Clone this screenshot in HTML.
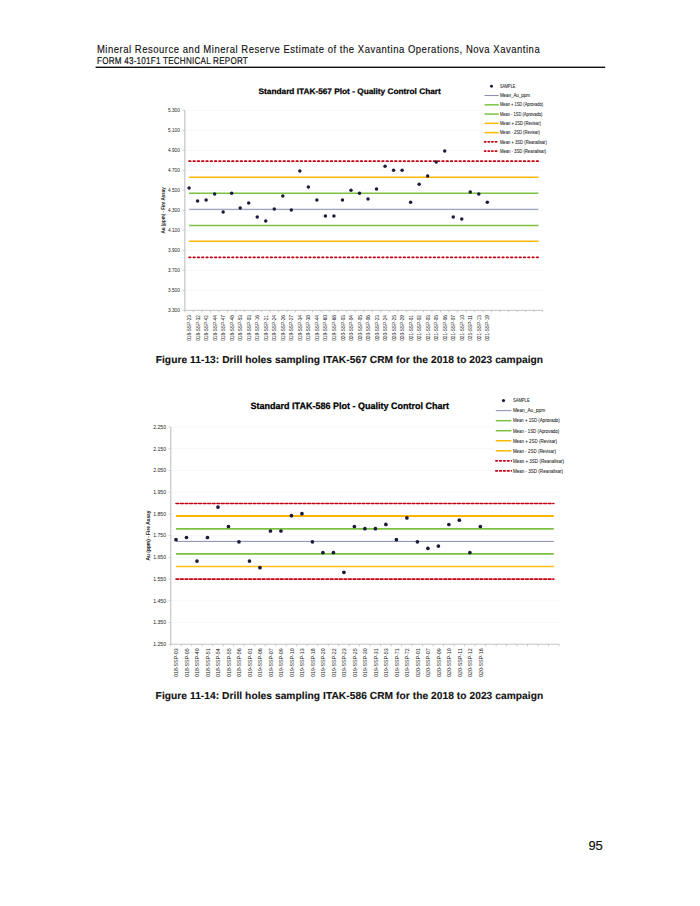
<!DOCTYPE html>
<html><head><meta charset="utf-8"><title>Page 95</title>
<style>
html,body{margin:0;padding:0;background:#fff;}
body{width:700px;height:906px;overflow:hidden;position:relative;}
svg{position:absolute;left:0;top:0;display:block;font-family:'Liberation Sans', sans-serif;}
.gp{text-rendering:geometricPrecision;}
</style></head><body>
<svg width="700" height="906" viewBox="0 0 700 906">
<rect width="700" height="906" fill="#fff"/>
<text transform="translate(96.9,52.7) scale(0.9,1)" font-size="10.55" fill="#111" stroke="#111" stroke-width="0.14" textLength="492.00" lengthAdjust="spacing">Mineral Resource and Mineral Reserve Estimate of the Xavantina Operations, Nova Xavantina</text>
<text class="gp" transform="translate(97.0,63.7) scale(0.82,1)" font-size="9.9" font-weight="400" fill="#111" stroke="#111" stroke-width="0.2" textLength="183.90" lengthAdjust="spacing">FORM 43-101F1 TECHNICAL REPORT</text>
<rect x="95.6" y="66.6" width="509.6" height="1.4" fill="#111"/>
<rect x="184.8" y="109.9" width="357.9" height="0.8" fill="#f7f7f7"/>
<rect x="182.8" y="109.9" width="2" height="0.8" fill="#bdbdbd"/>
<text x="179.8" y="111.99" font-size="4.7" text-anchor="end" fill="#222">5.300</text>
<rect x="184.8" y="129.9" width="357.9" height="0.8" fill="#f7f7f7"/>
<rect x="182.8" y="129.9" width="2" height="0.8" fill="#bdbdbd"/>
<text x="179.8" y="131.99" font-size="4.7" text-anchor="end" fill="#222">5.100</text>
<rect x="184.8" y="149.9" width="357.9" height="0.8" fill="#f7f7f7"/>
<rect x="182.8" y="149.9" width="2" height="0.8" fill="#bdbdbd"/>
<text x="179.8" y="151.99" font-size="4.7" text-anchor="end" fill="#222">4.900</text>
<rect x="184.8" y="169.9" width="357.9" height="0.8" fill="#f7f7f7"/>
<rect x="182.8" y="169.9" width="2" height="0.8" fill="#bdbdbd"/>
<text x="179.8" y="171.99" font-size="4.7" text-anchor="end" fill="#222">4.700</text>
<rect x="184.8" y="189.9" width="357.9" height="0.8" fill="#f7f7f7"/>
<rect x="182.8" y="189.9" width="2" height="0.8" fill="#bdbdbd"/>
<text x="179.8" y="191.99" font-size="4.7" text-anchor="end" fill="#222">4.500</text>
<rect x="184.8" y="209.9" width="357.9" height="0.8" fill="#f7f7f7"/>
<rect x="182.8" y="209.9" width="2" height="0.8" fill="#bdbdbd"/>
<text x="179.8" y="211.99" font-size="4.7" text-anchor="end" fill="#222">4.300</text>
<rect x="184.8" y="229.9" width="357.9" height="0.8" fill="#f7f7f7"/>
<rect x="182.8" y="229.9" width="2" height="0.8" fill="#bdbdbd"/>
<text x="179.8" y="231.99" font-size="4.7" text-anchor="end" fill="#222">4.100</text>
<rect x="184.8" y="249.9" width="357.9" height="0.8" fill="#f7f7f7"/>
<rect x="182.8" y="249.9" width="2" height="0.8" fill="#bdbdbd"/>
<text x="179.8" y="251.99" font-size="4.7" text-anchor="end" fill="#222">3.900</text>
<rect x="184.8" y="269.9" width="357.9" height="0.8" fill="#f7f7f7"/>
<rect x="182.8" y="269.9" width="2" height="0.8" fill="#bdbdbd"/>
<text x="179.8" y="271.99" font-size="4.7" text-anchor="end" fill="#222">3.700</text>
<rect x="184.8" y="289.9" width="357.9" height="0.8" fill="#f7f7f7"/>
<rect x="182.8" y="289.9" width="2" height="0.8" fill="#bdbdbd"/>
<text x="179.8" y="291.99" font-size="4.7" text-anchor="end" fill="#222">3.500</text>
<rect x="182.8" y="309.9" width="2" height="0.8" fill="#bdbdbd"/>
<text x="179.8" y="311.99" font-size="4.7" text-anchor="end" fill="#222">3.300</text>
<rect x="184.15" y="110.3" width="1.3" height="200" fill="#cacaca"/>
<rect x="184.8" y="309.8" width="357.9" height="1" fill="#c4c4c4"/>
<rect x="184.4" y="310.3" width="0.8" height="2" fill="#bdbdbd"/>
<rect x="192.92" y="310.3" width="0.8" height="2" fill="#bdbdbd"/>
<rect x="201.44" y="310.3" width="0.8" height="2" fill="#bdbdbd"/>
<rect x="209.96" y="310.3" width="0.8" height="2" fill="#bdbdbd"/>
<rect x="218.49" y="310.3" width="0.8" height="2" fill="#bdbdbd"/>
<rect x="227.01" y="310.3" width="0.8" height="2" fill="#bdbdbd"/>
<rect x="235.53" y="310.3" width="0.8" height="2" fill="#bdbdbd"/>
<rect x="244.05" y="310.3" width="0.8" height="2" fill="#bdbdbd"/>
<rect x="252.57" y="310.3" width="0.8" height="2" fill="#bdbdbd"/>
<rect x="261.09" y="310.3" width="0.8" height="2" fill="#bdbdbd"/>
<rect x="269.61" y="310.3" width="0.8" height="2" fill="#bdbdbd"/>
<rect x="278.14" y="310.3" width="0.8" height="2" fill="#bdbdbd"/>
<rect x="286.66" y="310.3" width="0.8" height="2" fill="#bdbdbd"/>
<rect x="295.18" y="310.3" width="0.8" height="2" fill="#bdbdbd"/>
<rect x="303.7" y="310.3" width="0.8" height="2" fill="#bdbdbd"/>
<rect x="312.22" y="310.3" width="0.8" height="2" fill="#bdbdbd"/>
<rect x="320.74" y="310.3" width="0.8" height="2" fill="#bdbdbd"/>
<rect x="329.26" y="310.3" width="0.8" height="2" fill="#bdbdbd"/>
<rect x="337.79" y="310.3" width="0.8" height="2" fill="#bdbdbd"/>
<rect x="346.31" y="310.3" width="0.8" height="2" fill="#bdbdbd"/>
<rect x="354.83" y="310.3" width="0.8" height="2" fill="#bdbdbd"/>
<rect x="363.35" y="310.3" width="0.8" height="2" fill="#bdbdbd"/>
<rect x="371.87" y="310.3" width="0.8" height="2" fill="#bdbdbd"/>
<rect x="380.39" y="310.3" width="0.8" height="2" fill="#bdbdbd"/>
<rect x="388.91" y="310.3" width="0.8" height="2" fill="#bdbdbd"/>
<rect x="397.44" y="310.3" width="0.8" height="2" fill="#bdbdbd"/>
<rect x="405.96" y="310.3" width="0.8" height="2" fill="#bdbdbd"/>
<rect x="414.48" y="310.3" width="0.8" height="2" fill="#bdbdbd"/>
<rect x="423" y="310.3" width="0.8" height="2" fill="#bdbdbd"/>
<rect x="431.52" y="310.3" width="0.8" height="2" fill="#bdbdbd"/>
<rect x="440.04" y="310.3" width="0.8" height="2" fill="#bdbdbd"/>
<rect x="448.56" y="310.3" width="0.8" height="2" fill="#bdbdbd"/>
<rect x="457.09" y="310.3" width="0.8" height="2" fill="#bdbdbd"/>
<rect x="465.61" y="310.3" width="0.8" height="2" fill="#bdbdbd"/>
<rect x="474.13" y="310.3" width="0.8" height="2" fill="#bdbdbd"/>
<rect x="482.65" y="310.3" width="0.8" height="2" fill="#bdbdbd"/>
<rect x="491.17" y="310.3" width="0.8" height="2" fill="#bdbdbd"/>
<rect x="499.69" y="310.3" width="0.8" height="2" fill="#bdbdbd"/>
<rect x="508.21" y="310.3" width="0.8" height="2" fill="#bdbdbd"/>
<rect x="516.74" y="310.3" width="0.8" height="2" fill="#bdbdbd"/>
<rect x="525.26" y="310.3" width="0.8" height="2" fill="#bdbdbd"/>
<rect x="533.78" y="310.3" width="0.8" height="2" fill="#bdbdbd"/>
<rect x="542.3" y="310.3" width="0.8" height="2" fill="#bdbdbd"/>
<line x1="189.06" y1="161.2" x2="538.44" y2="161.2" stroke="#c40012" stroke-width="1.7" stroke-dasharray="1.6 2.69" stroke-linecap="round"/>
<line x1="189.06" y1="257.3" x2="538.44" y2="257.3" stroke="#c40012" stroke-width="1.7" stroke-dasharray="1.6 2.69" stroke-linecap="round"/>
<line x1="189.06" y1="177.2" x2="538.44" y2="177.2" stroke="#ffb800" stroke-width="1.5"/>
<line x1="189.06" y1="241.3" x2="538.44" y2="241.3" stroke="#ffb800" stroke-width="1.5"/>
<line x1="189.06" y1="193.2" x2="538.44" y2="193.2" stroke="#7cc242" stroke-width="1.5"/>
<line x1="189.06" y1="225.4" x2="538.44" y2="225.4" stroke="#7cc242" stroke-width="1.5"/>
<line x1="189.06" y1="209.3" x2="538.44" y2="209.3" stroke="#7880aa" stroke-width="0.9"/>
<circle cx="189.06" cy="187.9" r="1.75" fill="#1b1b3c"/>
<circle cx="197.58" cy="201.1" r="1.75" fill="#1b1b3c"/>
<circle cx="206.1" cy="200.1" r="1.75" fill="#1b1b3c"/>
<circle cx="214.63" cy="194.1" r="1.75" fill="#1b1b3c"/>
<circle cx="223.15" cy="212.1" r="1.75" fill="#1b1b3c"/>
<circle cx="231.67" cy="193.2" r="1.75" fill="#1b1b3c"/>
<circle cx="240.19" cy="208.1" r="1.75" fill="#1b1b3c"/>
<circle cx="248.71" cy="203.1" r="1.75" fill="#1b1b3c"/>
<circle cx="257.23" cy="217" r="1.75" fill="#1b1b3c"/>
<circle cx="265.75" cy="221.1" r="1.75" fill="#1b1b3c"/>
<circle cx="274.28" cy="209.1" r="1.75" fill="#1b1b3c"/>
<circle cx="282.8" cy="196.1" r="1.75" fill="#1b1b3c"/>
<circle cx="291.32" cy="210" r="1.75" fill="#1b1b3c"/>
<circle cx="299.84" cy="171.1" r="1.75" fill="#1b1b3c"/>
<circle cx="308.36" cy="187.1" r="1.75" fill="#1b1b3c"/>
<circle cx="316.88" cy="200.1" r="1.75" fill="#1b1b3c"/>
<circle cx="325.4" cy="216.1" r="1.75" fill="#1b1b3c"/>
<circle cx="333.93" cy="216.1" r="1.75" fill="#1b1b3c"/>
<circle cx="342.45" cy="200.1" r="1.75" fill="#1b1b3c"/>
<circle cx="350.97" cy="190.2" r="1.75" fill="#1b1b3c"/>
<circle cx="359.49" cy="193.3" r="1.75" fill="#1b1b3c"/>
<circle cx="368.01" cy="199.1" r="1.75" fill="#1b1b3c"/>
<circle cx="376.53" cy="189.1" r="1.75" fill="#1b1b3c"/>
<circle cx="385.05" cy="166.2" r="1.75" fill="#1b1b3c"/>
<circle cx="393.58" cy="170.3" r="1.75" fill="#1b1b3c"/>
<circle cx="402.1" cy="170.3" r="1.75" fill="#1b1b3c"/>
<circle cx="410.62" cy="202.2" r="1.75" fill="#1b1b3c"/>
<circle cx="419.14" cy="184.2" r="1.75" fill="#1b1b3c"/>
<circle cx="427.66" cy="176.1" r="1.75" fill="#1b1b3c"/>
<circle cx="436.18" cy="162.1" r="1.75" fill="#1b1b3c"/>
<circle cx="444.7" cy="151.1" r="1.75" fill="#1b1b3c"/>
<circle cx="453.23" cy="217.1" r="1.75" fill="#1b1b3c"/>
<circle cx="461.75" cy="219.1" r="1.75" fill="#1b1b3c"/>
<circle cx="470.27" cy="192.1" r="1.75" fill="#1b1b3c"/>
<circle cx="478.79" cy="194.1" r="1.75" fill="#1b1b3c"/>
<circle cx="487.31" cy="202.2" r="1.75" fill="#1b1b3c"/>
<text transform="translate(191.11,315) rotate(-90)" font-size="5.4" text-anchor="end" fill="#222" stroke="#222" stroke-width="0" textLength="25.8" lengthAdjust="spacingAndGlyphs">018-SSP-23</text>
<text transform="translate(199.63,315) rotate(-90)" font-size="5.4" text-anchor="end" fill="#222" stroke="#222" stroke-width="0" textLength="25.8" lengthAdjust="spacingAndGlyphs">018-SSP-32</text>
<text transform="translate(208.16,315) rotate(-90)" font-size="5.4" text-anchor="end" fill="#222" stroke="#222" stroke-width="0" textLength="25.8" lengthAdjust="spacingAndGlyphs">018-SSP-42</text>
<text transform="translate(216.68,315) rotate(-90)" font-size="5.4" text-anchor="end" fill="#222" stroke="#222" stroke-width="0" textLength="25.8" lengthAdjust="spacingAndGlyphs">018-SSP-44</text>
<text transform="translate(225.2,315) rotate(-90)" font-size="5.4" text-anchor="end" fill="#222" stroke="#222" stroke-width="0" textLength="25.8" lengthAdjust="spacingAndGlyphs">018-SSP-47</text>
<text transform="translate(233.72,315) rotate(-90)" font-size="5.4" text-anchor="end" fill="#222" stroke="#222" stroke-width="0" textLength="25.8" lengthAdjust="spacingAndGlyphs">018-SSP-48</text>
<text transform="translate(242.24,315) rotate(-90)" font-size="5.4" text-anchor="end" fill="#222" stroke="#222" stroke-width="0" textLength="25.8" lengthAdjust="spacingAndGlyphs">018-SSP-53</text>
<text transform="translate(250.76,315) rotate(-90)" font-size="5.4" text-anchor="end" fill="#222" stroke="#222" stroke-width="0" textLength="25.8" lengthAdjust="spacingAndGlyphs">019-SSP-03</text>
<text transform="translate(259.28,315) rotate(-90)" font-size="5.4" text-anchor="end" fill="#222" stroke="#222" stroke-width="0" textLength="25.8" lengthAdjust="spacingAndGlyphs">019-SSP-16</text>
<text transform="translate(267.81,315) rotate(-90)" font-size="5.4" text-anchor="end" fill="#222" stroke="#222" stroke-width="0" textLength="25.8" lengthAdjust="spacingAndGlyphs">019-SSP-21</text>
<text transform="translate(276.33,315) rotate(-90)" font-size="5.4" text-anchor="end" fill="#222" stroke="#222" stroke-width="0" textLength="25.8" lengthAdjust="spacingAndGlyphs">019-SSP-24</text>
<text transform="translate(284.85,315) rotate(-90)" font-size="5.4" text-anchor="end" fill="#222" stroke="#222" stroke-width="0" textLength="25.8" lengthAdjust="spacingAndGlyphs">019-SSP-26</text>
<text transform="translate(293.37,315) rotate(-90)" font-size="5.4" text-anchor="end" fill="#222" stroke="#222" stroke-width="0" textLength="25.8" lengthAdjust="spacingAndGlyphs">019-SSP-27</text>
<text transform="translate(301.89,315) rotate(-90)" font-size="5.4" text-anchor="end" fill="#222" stroke="#222" stroke-width="0" textLength="25.8" lengthAdjust="spacingAndGlyphs">019-SSP-34</text>
<text transform="translate(310.41,315) rotate(-90)" font-size="5.4" text-anchor="end" fill="#222" stroke="#222" stroke-width="0" textLength="25.8" lengthAdjust="spacingAndGlyphs">019-SSP-38</text>
<text transform="translate(318.93,315) rotate(-90)" font-size="5.4" text-anchor="end" fill="#222" stroke="#222" stroke-width="0" textLength="25.8" lengthAdjust="spacingAndGlyphs">019-SSP-44</text>
<text transform="translate(327.46,315) rotate(-90)" font-size="5.4" text-anchor="end" fill="#222" stroke="#222" stroke-width="0" textLength="25.8" lengthAdjust="spacingAndGlyphs">019-SSP-60</text>
<text transform="translate(335.98,315) rotate(-90)" font-size="5.4" text-anchor="end" fill="#222" stroke="#222" stroke-width="0" textLength="25.8" lengthAdjust="spacingAndGlyphs">019-SSP-68</text>
<text transform="translate(344.5,315) rotate(-90)" font-size="5.4" text-anchor="end" fill="#222" stroke="#222" stroke-width="0" textLength="25.8" lengthAdjust="spacingAndGlyphs">020-SSP-03</text>
<text transform="translate(353.02,315) rotate(-90)" font-size="5.4" text-anchor="end" fill="#222" stroke="#222" stroke-width="0" textLength="25.8" lengthAdjust="spacingAndGlyphs">020-SSP-04</text>
<text transform="translate(361.54,315) rotate(-90)" font-size="5.4" text-anchor="end" fill="#222" stroke="#222" stroke-width="0" textLength="25.8" lengthAdjust="spacingAndGlyphs">020-SSP-05</text>
<text transform="translate(370.06,315) rotate(-90)" font-size="5.4" text-anchor="end" fill="#222" stroke="#222" stroke-width="0" textLength="25.8" lengthAdjust="spacingAndGlyphs">020-SSP-06</text>
<text transform="translate(378.58,315) rotate(-90)" font-size="5.4" text-anchor="end" fill="#222" stroke="#222" stroke-width="0" textLength="25.8" lengthAdjust="spacingAndGlyphs">020-SSP-23</text>
<text transform="translate(387.11,315) rotate(-90)" font-size="5.4" text-anchor="end" fill="#222" stroke="#222" stroke-width="0" textLength="25.8" lengthAdjust="spacingAndGlyphs">020-SSP-24</text>
<text transform="translate(395.63,315) rotate(-90)" font-size="5.4" text-anchor="end" fill="#222" stroke="#222" stroke-width="0" textLength="25.8" lengthAdjust="spacingAndGlyphs">020-SSP-25</text>
<text transform="translate(404.15,315) rotate(-90)" font-size="5.4" text-anchor="end" fill="#222" stroke="#222" stroke-width="0" textLength="25.8" lengthAdjust="spacingAndGlyphs">020-SSP-29</text>
<text transform="translate(412.67,315) rotate(-90)" font-size="5.4" text-anchor="end" fill="#222" stroke="#222" stroke-width="0" textLength="25.8" lengthAdjust="spacingAndGlyphs">021-SSP-01</text>
<text transform="translate(421.19,315) rotate(-90)" font-size="5.4" text-anchor="end" fill="#222" stroke="#222" stroke-width="0" textLength="25.8" lengthAdjust="spacingAndGlyphs">021-SSP-02</text>
<text transform="translate(429.71,315) rotate(-90)" font-size="5.4" text-anchor="end" fill="#222" stroke="#222" stroke-width="0" textLength="25.8" lengthAdjust="spacingAndGlyphs">021-SSP-03</text>
<text transform="translate(438.23,315) rotate(-90)" font-size="5.4" text-anchor="end" fill="#222" stroke="#222" stroke-width="0" textLength="25.8" lengthAdjust="spacingAndGlyphs">021-SSP-05</text>
<text transform="translate(446.76,315) rotate(-90)" font-size="5.4" text-anchor="end" fill="#222" stroke="#222" stroke-width="0" textLength="25.8" lengthAdjust="spacingAndGlyphs">021-SSP-06</text>
<text transform="translate(455.28,315) rotate(-90)" font-size="5.4" text-anchor="end" fill="#222" stroke="#222" stroke-width="0" textLength="25.8" lengthAdjust="spacingAndGlyphs">021-SSP-07</text>
<text transform="translate(463.8,315) rotate(-90)" font-size="5.4" text-anchor="end" fill="#222" stroke="#222" stroke-width="0" textLength="25.8" lengthAdjust="spacingAndGlyphs">021-SSP-10</text>
<text transform="translate(472.32,315) rotate(-90)" font-size="5.4" text-anchor="end" fill="#222" stroke="#222" stroke-width="0" textLength="25.8" lengthAdjust="spacingAndGlyphs">021-SSP-11</text>
<text transform="translate(480.84,315) rotate(-90)" font-size="5.4" text-anchor="end" fill="#222" stroke="#222" stroke-width="0" textLength="25.8" lengthAdjust="spacingAndGlyphs">021-SSP-13</text>
<text transform="translate(489.36,315) rotate(-90)" font-size="5.4" text-anchor="end" fill="#222" stroke="#222" stroke-width="0" textLength="25.8" lengthAdjust="spacingAndGlyphs">021-SSP-19</text>
<text transform="translate(165,210.4) rotate(-90)" font-size="4.6" font-weight="700" text-anchor="middle" fill="#222" textLength="46.4" lengthAdjust="spacingAndGlyphs">Au (ppm) - Fire Assay</text>
<text class="gp" x="258.6" y="93.7" font-size="8.0" font-weight="700" fill="#000" stroke="#000" stroke-width="0.25" textLength="182.2" lengthAdjust="spacingAndGlyphs">Standard ITAK-567 Plot - Quality Control Chart</text>
<rect x="483" y="81.3" width="65.4" height="74.82" fill="#fff"/>
<circle cx="491.5" cy="86.3" r="1.4875" fill="#1b1b3c"/>
<text x="499.9" y="87.96" font-size="4.6" fill="#1a1a1a" stroke="#1a1a1a" stroke-width="0.06" textLength="15.4" lengthAdjust="spacingAndGlyphs">SAMPLE</text>
<line x1="484.5" y1="95.56" x2="498.8" y2="95.56" stroke="#7880aa" stroke-width="0.9"/>
<text x="499.9" y="97.22" font-size="4.6" fill="#1a1a1a" stroke="#1a1a1a" stroke-width="0.06" textLength="30" lengthAdjust="spacingAndGlyphs">Mean_Au_ppm</text>
<line x1="484.5" y1="104.82" x2="498.8" y2="104.82" stroke="#7cc242" stroke-width="1.5"/>
<text x="499.9" y="106.48" font-size="4.6" fill="#1a1a1a" stroke="#1a1a1a" stroke-width="0.06" textLength="43.2" lengthAdjust="spacingAndGlyphs">Mean + 1SD (Aprovado)</text>
<line x1="484.5" y1="114.08" x2="498.8" y2="114.08" stroke="#7cc242" stroke-width="1.5"/>
<text x="499.9" y="115.74" font-size="4.6" fill="#1a1a1a" stroke="#1a1a1a" stroke-width="0.06" textLength="42.4" lengthAdjust="spacingAndGlyphs">Mean - 1SD (Aprovado)</text>
<line x1="484.5" y1="123.34" x2="498.8" y2="123.34" stroke="#ffb800" stroke-width="1.5"/>
<text x="499.9" y="125" font-size="4.6" fill="#1a1a1a" stroke="#1a1a1a" stroke-width="0.06" textLength="41" lengthAdjust="spacingAndGlyphs">Mean + 2SD (Revisar)</text>
<line x1="484.5" y1="132.6" x2="498.8" y2="132.6" stroke="#ffb800" stroke-width="1.5"/>
<text x="499.9" y="134.26" font-size="4.6" fill="#1a1a1a" stroke="#1a1a1a" stroke-width="0.06" textLength="40" lengthAdjust="spacingAndGlyphs">Mean - 2SD (Revisar)</text>
<line x1="484.5" y1="141.86" x2="498.8" y2="141.86" stroke="#c40012" stroke-width="1.6" stroke-dasharray="1.4 2.2" stroke-linecap="round"/>
<text x="499.9" y="143.52" font-size="4.6" fill="#1a1a1a" stroke="#1a1a1a" stroke-width="0.06" textLength="47" lengthAdjust="spacingAndGlyphs">Mean + 3SD (Reanalisar)</text>
<line x1="484.5" y1="151.12" x2="498.8" y2="151.12" stroke="#c40012" stroke-width="1.6" stroke-dasharray="1.4 2.2" stroke-linecap="round"/>
<text x="499.9" y="152.78" font-size="4.6" fill="#1a1a1a" stroke="#1a1a1a" stroke-width="0.06" textLength="46.3" lengthAdjust="spacingAndGlyphs">Mean - 3SD (Reanalisar)</text>
<rect x="170.75" y="426.6" width="388.32" height="0.8" fill="#f7f7f7"/>
<rect x="168.75" y="426.6" width="2" height="0.8" fill="#bdbdbd"/>
<text x="166" y="428.84" font-size="5.1" text-anchor="end" fill="#222">2.250</text>
<rect x="170.75" y="448.32" width="388.32" height="0.8" fill="#f7f7f7"/>
<rect x="168.75" y="448.32" width="2" height="0.8" fill="#bdbdbd"/>
<text x="166" y="450.56" font-size="5.1" text-anchor="end" fill="#222">2.150</text>
<rect x="170.75" y="470.04" width="388.32" height="0.8" fill="#f7f7f7"/>
<rect x="168.75" y="470.04" width="2" height="0.8" fill="#bdbdbd"/>
<text x="166" y="472.28" font-size="5.1" text-anchor="end" fill="#222">2.050</text>
<rect x="170.75" y="491.76" width="388.32" height="0.8" fill="#f7f7f7"/>
<rect x="168.75" y="491.76" width="2" height="0.8" fill="#bdbdbd"/>
<text x="166" y="494" font-size="5.1" text-anchor="end" fill="#222">1.950</text>
<rect x="170.75" y="513.48" width="388.32" height="0.8" fill="#f7f7f7"/>
<rect x="168.75" y="513.48" width="2" height="0.8" fill="#bdbdbd"/>
<text x="166" y="515.72" font-size="5.1" text-anchor="end" fill="#222">1.850</text>
<rect x="170.75" y="535.2" width="388.32" height="0.8" fill="#f7f7f7"/>
<rect x="168.75" y="535.2" width="2" height="0.8" fill="#bdbdbd"/>
<text x="166" y="537.44" font-size="5.1" text-anchor="end" fill="#222">1.750</text>
<rect x="170.75" y="556.92" width="388.32" height="0.8" fill="#f7f7f7"/>
<rect x="168.75" y="556.92" width="2" height="0.8" fill="#bdbdbd"/>
<text x="166" y="559.16" font-size="5.1" text-anchor="end" fill="#222">1.650</text>
<rect x="170.75" y="578.64" width="388.32" height="0.8" fill="#f7f7f7"/>
<rect x="168.75" y="578.64" width="2" height="0.8" fill="#bdbdbd"/>
<text x="166" y="580.88" font-size="5.1" text-anchor="end" fill="#222">1.550</text>
<rect x="170.75" y="600.36" width="388.32" height="0.8" fill="#f7f7f7"/>
<rect x="168.75" y="600.36" width="2" height="0.8" fill="#bdbdbd"/>
<text x="166" y="602.6" font-size="5.1" text-anchor="end" fill="#222">1.450</text>
<rect x="170.75" y="622.08" width="388.32" height="0.8" fill="#f7f7f7"/>
<rect x="168.75" y="622.08" width="2" height="0.8" fill="#bdbdbd"/>
<text x="166" y="624.32" font-size="5.1" text-anchor="end" fill="#222">1.350</text>
<rect x="168.75" y="643.8" width="2" height="0.8" fill="#bdbdbd"/>
<text x="166" y="646.04" font-size="5.1" text-anchor="end" fill="#222">1.250</text>
<rect x="170.1" y="427" width="1.3" height="217.2" fill="#cacaca"/>
<rect x="170.75" y="643.7" width="388.32" height="1" fill="#c4c4c4"/>
<rect x="170.35" y="644.2" width="0.8" height="2" fill="#bdbdbd"/>
<rect x="180.85" y="644.2" width="0.8" height="2" fill="#bdbdbd"/>
<rect x="191.34" y="644.2" width="0.8" height="2" fill="#bdbdbd"/>
<rect x="201.84" y="644.2" width="0.8" height="2" fill="#bdbdbd"/>
<rect x="212.33" y="644.2" width="0.8" height="2" fill="#bdbdbd"/>
<rect x="222.83" y="644.2" width="0.8" height="2" fill="#bdbdbd"/>
<rect x="233.32" y="644.2" width="0.8" height="2" fill="#bdbdbd"/>
<rect x="243.82" y="644.2" width="0.8" height="2" fill="#bdbdbd"/>
<rect x="254.31" y="644.2" width="0.8" height="2" fill="#bdbdbd"/>
<rect x="264.81" y="644.2" width="0.8" height="2" fill="#bdbdbd"/>
<rect x="275.3" y="644.2" width="0.8" height="2" fill="#bdbdbd"/>
<rect x="285.8" y="644.2" width="0.8" height="2" fill="#bdbdbd"/>
<rect x="296.29" y="644.2" width="0.8" height="2" fill="#bdbdbd"/>
<rect x="306.79" y="644.2" width="0.8" height="2" fill="#bdbdbd"/>
<rect x="317.28" y="644.2" width="0.8" height="2" fill="#bdbdbd"/>
<rect x="327.78" y="644.2" width="0.8" height="2" fill="#bdbdbd"/>
<rect x="338.27" y="644.2" width="0.8" height="2" fill="#bdbdbd"/>
<rect x="348.77" y="644.2" width="0.8" height="2" fill="#bdbdbd"/>
<rect x="359.26" y="644.2" width="0.8" height="2" fill="#bdbdbd"/>
<rect x="369.76" y="644.2" width="0.8" height="2" fill="#bdbdbd"/>
<rect x="380.25" y="644.2" width="0.8" height="2" fill="#bdbdbd"/>
<rect x="390.75" y="644.2" width="0.8" height="2" fill="#bdbdbd"/>
<rect x="401.24" y="644.2" width="0.8" height="2" fill="#bdbdbd"/>
<rect x="411.74" y="644.2" width="0.8" height="2" fill="#bdbdbd"/>
<rect x="422.23" y="644.2" width="0.8" height="2" fill="#bdbdbd"/>
<rect x="432.73" y="644.2" width="0.8" height="2" fill="#bdbdbd"/>
<rect x="443.22" y="644.2" width="0.8" height="2" fill="#bdbdbd"/>
<rect x="453.72" y="644.2" width="0.8" height="2" fill="#bdbdbd"/>
<rect x="464.21" y="644.2" width="0.8" height="2" fill="#bdbdbd"/>
<rect x="474.71" y="644.2" width="0.8" height="2" fill="#bdbdbd"/>
<rect x="485.2" y="644.2" width="0.8" height="2" fill="#bdbdbd"/>
<rect x="495.7" y="644.2" width="0.8" height="2" fill="#bdbdbd"/>
<rect x="506.19" y="644.2" width="0.8" height="2" fill="#bdbdbd"/>
<rect x="516.69" y="644.2" width="0.8" height="2" fill="#bdbdbd"/>
<rect x="527.18" y="644.2" width="0.8" height="2" fill="#bdbdbd"/>
<rect x="537.68" y="644.2" width="0.8" height="2" fill="#bdbdbd"/>
<rect x="548.17" y="644.2" width="0.8" height="2" fill="#bdbdbd"/>
<rect x="558.67" y="644.2" width="0.8" height="2" fill="#bdbdbd"/>
<line x1="176" y1="503.5" x2="553.82" y2="503.5" stroke="#c40012" stroke-width="1.6" stroke-dasharray="2.8 1.74" stroke-linecap="round"/>
<line x1="176" y1="579.1" x2="553.82" y2="579.1" stroke="#c40012" stroke-width="1.6" stroke-dasharray="2.8 1.74" stroke-linecap="round"/>
<line x1="176" y1="516" x2="553.82" y2="516" stroke="#f7b500" stroke-width="1.9"/>
<line x1="176" y1="566.4" x2="553.82" y2="566.4" stroke="#ffbf14" stroke-width="1.5"/>
<line x1="176" y1="528.8" x2="553.82" y2="528.8" stroke="#7cc242" stroke-width="1.7"/>
<line x1="176" y1="553.8" x2="553.82" y2="553.8" stroke="#7cc242" stroke-width="1.7"/>
<line x1="176" y1="541.4" x2="553.82" y2="541.4" stroke="#7880aa" stroke-width="0.9"/>
<circle cx="176" cy="539.7" r="1.85" fill="#1b1b3c"/>
<circle cx="186.49" cy="537.5" r="1.85" fill="#1b1b3c"/>
<circle cx="196.99" cy="561.1" r="1.85" fill="#1b1b3c"/>
<circle cx="207.48" cy="537.5" r="1.85" fill="#1b1b3c"/>
<circle cx="217.98" cy="507.1" r="1.85" fill="#1b1b3c"/>
<circle cx="228.47" cy="526.5" r="1.85" fill="#1b1b3c"/>
<circle cx="238.97" cy="541.8" r="1.85" fill="#1b1b3c"/>
<circle cx="249.46" cy="561.1" r="1.85" fill="#1b1b3c"/>
<circle cx="259.96" cy="567.7" r="1.85" fill="#1b1b3c"/>
<circle cx="270.45" cy="531" r="1.85" fill="#1b1b3c"/>
<circle cx="280.95" cy="531" r="1.85" fill="#1b1b3c"/>
<circle cx="291.44" cy="515.7" r="1.85" fill="#1b1b3c"/>
<circle cx="301.94" cy="513.7" r="1.85" fill="#1b1b3c"/>
<circle cx="312.43" cy="541.8" r="1.85" fill="#1b1b3c"/>
<circle cx="322.93" cy="552.6" r="1.85" fill="#1b1b3c"/>
<circle cx="333.42" cy="552.6" r="1.85" fill="#1b1b3c"/>
<circle cx="343.92" cy="572.3" r="1.85" fill="#1b1b3c"/>
<circle cx="354.41" cy="526.5" r="1.85" fill="#1b1b3c"/>
<circle cx="364.91" cy="528.7" r="1.85" fill="#1b1b3c"/>
<circle cx="375.41" cy="528.7" r="1.85" fill="#1b1b3c"/>
<circle cx="385.9" cy="524.4" r="1.85" fill="#1b1b3c"/>
<circle cx="396.4" cy="539.7" r="1.85" fill="#1b1b3c"/>
<circle cx="406.89" cy="517.9" r="1.85" fill="#1b1b3c"/>
<circle cx="417.39" cy="541.8" r="1.85" fill="#1b1b3c"/>
<circle cx="427.88" cy="548.3" r="1.85" fill="#1b1b3c"/>
<circle cx="438.38" cy="546.1" r="1.85" fill="#1b1b3c"/>
<circle cx="448.87" cy="524.5" r="1.85" fill="#1b1b3c"/>
<circle cx="459.37" cy="520.2" r="1.85" fill="#1b1b3c"/>
<circle cx="469.86" cy="552.6" r="1.85" fill="#1b1b3c"/>
<circle cx="480.36" cy="526.5" r="1.85" fill="#1b1b3c"/>
<text transform="translate(178.28,648.3) rotate(-90)" font-size="6.0" text-anchor="end" fill="#1a1a1a" stroke="#1a1a1a" stroke-width="0" textLength="28.6" lengthAdjust="spacingAndGlyphs">018-SSP-03</text>
<text transform="translate(188.77,648.3) rotate(-90)" font-size="6.0" text-anchor="end" fill="#1a1a1a" stroke="#1a1a1a" stroke-width="0" textLength="28.6" lengthAdjust="spacingAndGlyphs">018-SSP-05</text>
<text transform="translate(199.27,648.3) rotate(-90)" font-size="6.0" text-anchor="end" fill="#1a1a1a" stroke="#1a1a1a" stroke-width="0" textLength="28.6" lengthAdjust="spacingAndGlyphs">018-SSP-40</text>
<text transform="translate(209.76,648.3) rotate(-90)" font-size="6.0" text-anchor="end" fill="#1a1a1a" stroke="#1a1a1a" stroke-width="0" textLength="28.6" lengthAdjust="spacingAndGlyphs">018-SSP-51</text>
<text transform="translate(220.26,648.3) rotate(-90)" font-size="6.0" text-anchor="end" fill="#1a1a1a" stroke="#1a1a1a" stroke-width="0" textLength="28.6" lengthAdjust="spacingAndGlyphs">018-SSP-54</text>
<text transform="translate(230.75,648.3) rotate(-90)" font-size="6.0" text-anchor="end" fill="#1a1a1a" stroke="#1a1a1a" stroke-width="0" textLength="28.6" lengthAdjust="spacingAndGlyphs">018-SSP-55</text>
<text transform="translate(241.25,648.3) rotate(-90)" font-size="6.0" text-anchor="end" fill="#1a1a1a" stroke="#1a1a1a" stroke-width="0" textLength="28.6" lengthAdjust="spacingAndGlyphs">018-SSP-56</text>
<text transform="translate(251.74,648.3) rotate(-90)" font-size="6.0" text-anchor="end" fill="#1a1a1a" stroke="#1a1a1a" stroke-width="0" textLength="28.6" lengthAdjust="spacingAndGlyphs">019-SSP-01</text>
<text transform="translate(262.24,648.3) rotate(-90)" font-size="6.0" text-anchor="end" fill="#1a1a1a" stroke="#1a1a1a" stroke-width="0" textLength="28.6" lengthAdjust="spacingAndGlyphs">019-SSP-06</text>
<text transform="translate(272.73,648.3) rotate(-90)" font-size="6.0" text-anchor="end" fill="#1a1a1a" stroke="#1a1a1a" stroke-width="0" textLength="28.6" lengthAdjust="spacingAndGlyphs">019-SSP-07</text>
<text transform="translate(283.23,648.3) rotate(-90)" font-size="6.0" text-anchor="end" fill="#1a1a1a" stroke="#1a1a1a" stroke-width="0" textLength="28.6" lengthAdjust="spacingAndGlyphs">019-SSP-09</text>
<text transform="translate(293.72,648.3) rotate(-90)" font-size="6.0" text-anchor="end" fill="#1a1a1a" stroke="#1a1a1a" stroke-width="0" textLength="28.6" lengthAdjust="spacingAndGlyphs">019-SSP-10</text>
<text transform="translate(304.22,648.3) rotate(-90)" font-size="6.0" text-anchor="end" fill="#1a1a1a" stroke="#1a1a1a" stroke-width="0" textLength="28.6" lengthAdjust="spacingAndGlyphs">019-SSP-13</text>
<text transform="translate(314.71,648.3) rotate(-90)" font-size="6.0" text-anchor="end" fill="#1a1a1a" stroke="#1a1a1a" stroke-width="0" textLength="28.6" lengthAdjust="spacingAndGlyphs">019-SSP-18</text>
<text transform="translate(325.21,648.3) rotate(-90)" font-size="6.0" text-anchor="end" fill="#1a1a1a" stroke="#1a1a1a" stroke-width="0" textLength="28.6" lengthAdjust="spacingAndGlyphs">019-SSP-20</text>
<text transform="translate(335.7,648.3) rotate(-90)" font-size="6.0" text-anchor="end" fill="#1a1a1a" stroke="#1a1a1a" stroke-width="0" textLength="28.6" lengthAdjust="spacingAndGlyphs">019-SSP-22</text>
<text transform="translate(346.2,648.3) rotate(-90)" font-size="6.0" text-anchor="end" fill="#1a1a1a" stroke="#1a1a1a" stroke-width="0" textLength="28.6" lengthAdjust="spacingAndGlyphs">019-SSP-23</text>
<text transform="translate(356.69,648.3) rotate(-90)" font-size="6.0" text-anchor="end" fill="#1a1a1a" stroke="#1a1a1a" stroke-width="0" textLength="28.6" lengthAdjust="spacingAndGlyphs">019-SSP-25</text>
<text transform="translate(367.19,648.3) rotate(-90)" font-size="6.0" text-anchor="end" fill="#1a1a1a" stroke="#1a1a1a" stroke-width="0" textLength="28.6" lengthAdjust="spacingAndGlyphs">019-SSP-30</text>
<text transform="translate(377.69,648.3) rotate(-90)" font-size="6.0" text-anchor="end" fill="#1a1a1a" stroke="#1a1a1a" stroke-width="0" textLength="28.6" lengthAdjust="spacingAndGlyphs">019-SSP-31</text>
<text transform="translate(388.18,648.3) rotate(-90)" font-size="6.0" text-anchor="end" fill="#1a1a1a" stroke="#1a1a1a" stroke-width="0" textLength="28.6" lengthAdjust="spacingAndGlyphs">019-SSP-53</text>
<text transform="translate(398.68,648.3) rotate(-90)" font-size="6.0" text-anchor="end" fill="#1a1a1a" stroke="#1a1a1a" stroke-width="0" textLength="28.6" lengthAdjust="spacingAndGlyphs">019-SSP-71</text>
<text transform="translate(409.17,648.3) rotate(-90)" font-size="6.0" text-anchor="end" fill="#1a1a1a" stroke="#1a1a1a" stroke-width="0" textLength="28.6" lengthAdjust="spacingAndGlyphs">019-SSP-72</text>
<text transform="translate(419.67,648.3) rotate(-90)" font-size="6.0" text-anchor="end" fill="#1a1a1a" stroke="#1a1a1a" stroke-width="0" textLength="28.6" lengthAdjust="spacingAndGlyphs">020-SSP-01</text>
<text transform="translate(430.16,648.3) rotate(-90)" font-size="6.0" text-anchor="end" fill="#1a1a1a" stroke="#1a1a1a" stroke-width="0" textLength="28.6" lengthAdjust="spacingAndGlyphs">020-SSP-07</text>
<text transform="translate(440.66,648.3) rotate(-90)" font-size="6.0" text-anchor="end" fill="#1a1a1a" stroke="#1a1a1a" stroke-width="0" textLength="28.6" lengthAdjust="spacingAndGlyphs">020-SSP-09</text>
<text transform="translate(451.15,648.3) rotate(-90)" font-size="6.0" text-anchor="end" fill="#1a1a1a" stroke="#1a1a1a" stroke-width="0" textLength="28.6" lengthAdjust="spacingAndGlyphs">020-SSP-10</text>
<text transform="translate(461.65,648.3) rotate(-90)" font-size="6.0" text-anchor="end" fill="#1a1a1a" stroke="#1a1a1a" stroke-width="0" textLength="28.6" lengthAdjust="spacingAndGlyphs">020-SSP-11</text>
<text transform="translate(472.14,648.3) rotate(-90)" font-size="6.0" text-anchor="end" fill="#1a1a1a" stroke="#1a1a1a" stroke-width="0" textLength="28.6" lengthAdjust="spacingAndGlyphs">020-SSP-12</text>
<text transform="translate(482.64,648.3) rotate(-90)" font-size="6.0" text-anchor="end" fill="#1a1a1a" stroke="#1a1a1a" stroke-width="0" textLength="28.6" lengthAdjust="spacingAndGlyphs">020-SSP-16</text>
<text transform="translate(149.6,535.5) rotate(-90)" font-size="4.9" font-weight="700" text-anchor="middle" fill="#222" textLength="50" lengthAdjust="spacingAndGlyphs">Au (ppm) - Fire Assay</text>
<text class="gp" x="250.6" y="409.3" font-size="9.3" font-weight="700" fill="#000" stroke="#000" stroke-width="0.25" textLength="198.3" lengthAdjust="spacingAndGlyphs">Standard ITAK-586 Plot - Quality Control Chart</text>
<rect x="494.3" y="395.6" width="71.2" height="80.28" fill="#fff"/>
<circle cx="503.5" cy="400.6" r="1.5725" fill="#1b1b3c"/>
<text x="512.9" y="402.4" font-size="5.0" fill="#1a1a1a" stroke="#1a1a1a" stroke-width="0.06" textLength="16.8" lengthAdjust="spacingAndGlyphs">SAMPLE</text>
<line x1="495.8" y1="410.64" x2="511.4" y2="410.64" stroke="#7880aa" stroke-width="0.9"/>
<text x="512.9" y="412.44" font-size="5.0" fill="#1a1a1a" stroke="#1a1a1a" stroke-width="0.06" textLength="32.2" lengthAdjust="spacingAndGlyphs">Mean_Au_ppm</text>
<line x1="495.8" y1="420.68" x2="511.4" y2="420.68" stroke="#7cc242" stroke-width="1.5"/>
<text x="512.9" y="422.48" font-size="5.0" fill="#1a1a1a" stroke="#1a1a1a" stroke-width="0.06" textLength="46.8" lengthAdjust="spacingAndGlyphs">Mean + 1SD (Aprovado)</text>
<line x1="495.8" y1="430.72" x2="511.4" y2="430.72" stroke="#7cc242" stroke-width="1.5"/>
<text x="512.9" y="432.52" font-size="5.0" fill="#1a1a1a" stroke="#1a1a1a" stroke-width="0.06" textLength="46.3" lengthAdjust="spacingAndGlyphs">Mean - 1SD (Aprovado)</text>
<line x1="495.8" y1="440.76" x2="511.4" y2="440.76" stroke="#ffb800" stroke-width="1.5"/>
<text x="512.9" y="442.56" font-size="5.0" fill="#1a1a1a" stroke="#1a1a1a" stroke-width="0.06" textLength="44.2" lengthAdjust="spacingAndGlyphs">Mean + 2SD (Revisar)</text>
<line x1="495.8" y1="450.8" x2="511.4" y2="450.8" stroke="#ffb800" stroke-width="1.5"/>
<text x="512.9" y="452.6" font-size="5.0" fill="#1a1a1a" stroke="#1a1a1a" stroke-width="0.06" textLength="43.1" lengthAdjust="spacingAndGlyphs">Mean - 2SD (Revisar)</text>
<line x1="495.8" y1="460.84" x2="511.4" y2="460.84" stroke="#c40012" stroke-width="1.6" stroke-dasharray="1.6 2.3" stroke-linecap="round"/>
<text x="512.9" y="462.64" font-size="5.0" fill="#1a1a1a" stroke="#1a1a1a" stroke-width="0.06" textLength="51.1" lengthAdjust="spacingAndGlyphs">Mean + 3SD (Reanalisar)</text>
<line x1="495.8" y1="470.88" x2="511.4" y2="470.88" stroke="#c40012" stroke-width="1.6" stroke-dasharray="1.6 2.3" stroke-linecap="round"/>
<text x="512.9" y="472.68" font-size="5.0" fill="#1a1a1a" stroke="#1a1a1a" stroke-width="0.06" textLength="50.2" lengthAdjust="spacingAndGlyphs">Mean - 3SD (Reanalisar)</text>
<text class="gp" x="155.7" y="362.6" font-size="10.2" font-weight="700" fill="#111" stroke="#111" stroke-width="0.12" textLength="387.4" lengthAdjust="spacing">Figure 11-13: Drill holes sampling ITAK-567 CRM for the 2018 to 2023 campaign</text>
<text class="gp" x="155.6" y="699.2" font-size="10.2" font-weight="700" fill="#111" stroke="#111" stroke-width="0.12" textLength="387.6" lengthAdjust="spacing">Figure 11-14: Drill holes sampling ITAK-586 CRM for the 2018 to 2023 campaign</text>
<text x="588.4" y="849.9" font-size="13" fill="#111" stroke="#111" stroke-width="0.2" textLength="14.4" lengthAdjust="spacingAndGlyphs">95</text>
</svg>
</body></html>
